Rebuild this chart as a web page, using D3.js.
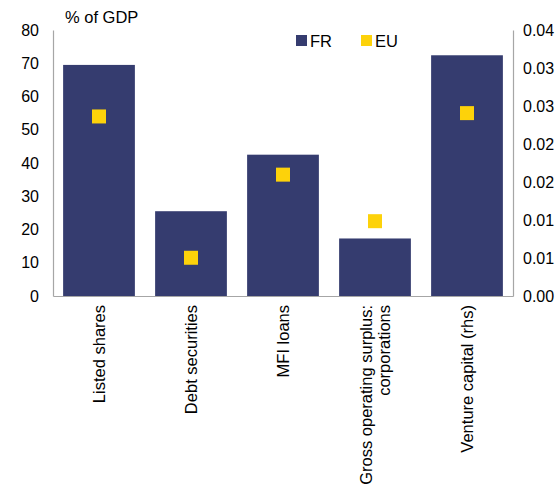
<!DOCTYPE html>
<html><head><meta charset="utf-8">
<script src="https://cdn.jsdelivr.net/npm/d3@7"></script>
<style>body{margin:0;background:#fff}text{font-family:"Liberation Sans",Arial,sans-serif;font-size:16.5px;fill:#000}</style>
</head><body><svg id="c" width="555" height="502"></svg>
<script>
const categories = ['Listed shares', 'Debt securities', 'MFI loans', 'Gross operating surplus:|corporations', 'Venture capital (rhs)'];
const fr = [69.5, 25.5, 42.5, 17.3, 0.0362];
const eu = [54, 11.5, 36.5, 22.5, 0.0275];
const rhs = [false, false, false, false, true];
const leftTicks = d3.range(0, 81, 10);
const rightTicks = d3.range(0, 8).map(i => i * 0.04 / 7);

const svg = d3.select('#c');
const m = {l: 53, r: 513, t: 30, b: 296};
const x = d3.scaleBand().domain(categories).range([m.l, m.r]).paddingInner(0.22).paddingOuter(0.11);
const yL = d3.scaleLinear().domain([0, 80]).range([m.b, m.t]);
const yR = d3.scaleLinear().domain([0, 0.04]).range([m.b, m.t]);
const y = (v, i) => rhs[i] ? yR(v) : yL(v);

svg.selectAll('rect.bar').data(fr).join('rect')
    .attr('x', (d, i) => x(categories[i]))
    .attr('width', x.bandwidth())
    .attr('y', (d, i) => y(d, i))
    .attr('height', (d, i) => m.b - y(d, i))
    .attr('fill', '#353c6f');

const s = 14;
svg.selectAll('rect.eu').data(eu).join('rect')
    .attr('x', (d, i) => x(categories[i]) + x.bandwidth() / 2 - s / 2)
    .attr('y', (d, i) => y(d, i) - s / 2)
    .attr('width', s).attr('height', s)
    .attr('fill', '#fdd20a');

svg.append('g').attr('transform', `translate(${m.l},0)`)
    .call(d3.axisLeft(yL).tickValues(leftTicks).tickSize(0).tickPadding(14));
svg.append('g').attr('transform', `translate(${m.r},0)`)
    .call(d3.axisRight(yR).tickValues(rightTicks).tickSize(0).tickPadding(10)
        .tickFormat(d => d.toFixed(2)));
svg.append('g').attr('transform', `translate(0,${m.b})`)
    .call(d3.axisBottom(x).tickSize(0).tickFormat(''));
svg.selectAll('.domain').attr('stroke', '#a6a6a6').attr('stroke-width', 1.2);
svg.selectAll('.tick text').style('font-size', '16px').style('font-family', '"Liberation Sans",Arial,sans-serif');

categories.forEach((c, i) => {
    const lines = c.split('|');
    const cx = x(c) + x.bandwidth() / 2;
    const t = svg.append('text')
        .attr('transform', `translate(${cx},305) rotate(-90)`)
        .attr('text-anchor', 'end');
    lines.forEach((l, j) => t.append('tspan')
        .attr('x', 0)
        .attr('dy', j === 0 ? (6 - (lines.length - 1) * 9) : 18)
        .text(l));
});

svg.append('text').attr('x', 65).attr('y', 23).text('% of GDP');

const lg = [['FR', '#353c6f', 296], ['EU', '#fdd20a', 361]];
lg.forEach(([n, col, lx]) => {
    svg.append('rect').attr('x', lx).attr('y', 35).attr('width', 11).attr('height', 11).attr('fill', col);
    svg.append('text').attr('x', lx + 14).attr('y', 47).text(n);
});
</script></body></html>
